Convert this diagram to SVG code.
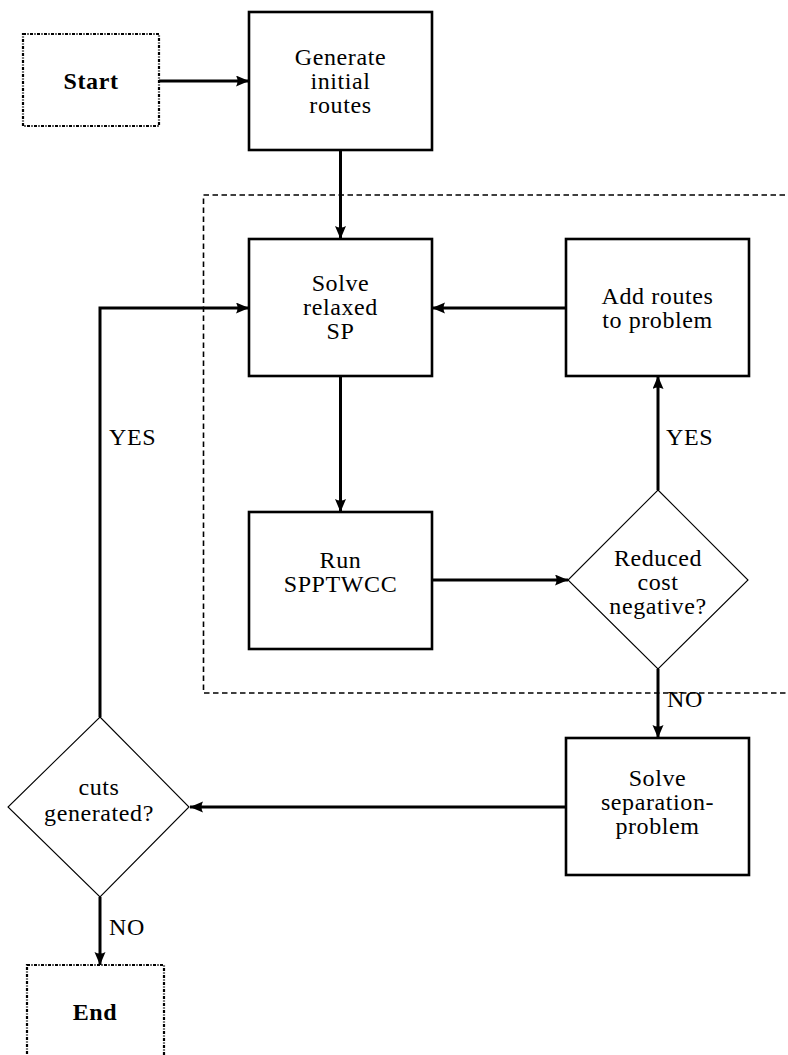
<svg xmlns="http://www.w3.org/2000/svg" width="788" height="1055" viewBox="0 0 788 1055">
  <style>
    .box { fill: #ffffff; stroke: #000000; stroke-width: 2.6; }
    .term { fill: #ffffff; stroke: #000000; stroke-width: 2.2; stroke-dasharray: 3 1.4 1.2 1.4; }
    .dec { fill: #ffffff; stroke: #000000; stroke-width: 1.1; }
    .frame { fill: none; stroke: #000000; stroke-width: 1.6; stroke-dasharray: 5.5 3.5; }
    .edge { fill: none; stroke: #000000; stroke-width: 3; marker-end: url(#head); }
    text { font-size: 24px; letter-spacing: 0.6px; fill: #000000; text-anchor: middle; }
    .bold { font-weight: bold; }
    .lbl { text-anchor: start; }
  </style>
  <defs>
    <marker id="head" markerUnits="userSpaceOnUse" markerWidth="14" markerHeight="12" refX="13" refY="5.5" orient="auto">
      <path d="M0,0 L13,5.5 L0,11 Q3,5.5 0,0 z" fill="#000000"/>
    </marker>
  </defs>

  <rect width="788" height="1055" fill="#ffffff"/>

  <!-- column-generation loop frame -->
  <rect class="frame" x="203.5" y="195" width="600" height="498"/>

  <g id="connectors" font-family="Liberation Serif, Times New Roman, serif">
    <path class="edge" d="M159,81 H249"/>
    <path class="edge" d="M340.5,150 V239"/>
    <path class="edge" d="M566,308 H432"/>
    <path class="edge" d="M340.5,376 V512"/>
    <path class="edge" d="M432,580 H568"/>
    <path class="edge" d="M658,490 V376"/>
    <path class="edge" d="M658,669 V738"/>
    <path class="edge" d="M566,807 H190"/>
    <path class="edge" d="M100,717 V308 H249"/>
    <path class="edge" d="M100,897 V965"/>
    <text class="lbl" x="109" y="445">YES</text>
    <text class="lbl" x="666" y="445">YES</text>
    <text class="lbl" x="667" y="707">NO</text>
    <text class="lbl" x="109" y="935">NO</text>
  </g>

  <g id="start" font-family="Liberation Serif, Times New Roman, serif">
    <rect class="term" x="23" y="34" width="136" height="92"/>
    <text class="bold" x="91" y="89">Start</text>
  </g>

  <g id="generate" font-family="Liberation Serif, Times New Roman, serif">
    <rect class="box" x="249" y="12" width="183" height="138"/>
    <text x="340.5" y="65">Generate</text>
    <text x="340.5" y="89">initial</text>
    <text x="340.5" y="113">routes</text>
  </g>

  <g id="solve-relaxed" font-family="Liberation Serif, Times New Roman, serif">
    <rect class="box" x="249" y="239" width="183" height="137"/>
    <text x="340.5" y="291">Solve</text>
    <text x="340.5" y="315">relaxed</text>
    <text x="340.5" y="339">SP</text>
  </g>

  <g id="add-routes" font-family="Liberation Serif, Times New Roman, serif">
    <rect class="box" x="566" y="239" width="183" height="137"/>
    <text x="657.5" y="304">Add routes</text>
    <text x="657.5" y="328">to problem</text>
  </g>

  <g id="run-spptwcc" font-family="Liberation Serif, Times New Roman, serif">
    <rect class="box" x="249" y="512" width="183" height="137"/>
    <text x="340.5" y="568">Run</text>
    <text x="340.5" y="592">SPPTWCC</text>
  </g>

  <g id="reduced-cost" font-family="Liberation Serif, Times New Roman, serif">
    <polygon class="dec" points="658,490 748,580 658,669 568,580"/>
    <text x="658" y="566">Reduced</text>
    <text x="658" y="590">cost</text>
    <text x="658" y="614">negative?</text>
  </g>

  <g id="separation" font-family="Liberation Serif, Times New Roman, serif">
    <rect class="box" x="566" y="738" width="183" height="137"/>
    <text x="657.5" y="786">Solve</text>
    <text x="657.5" y="810">separation-</text>
    <text x="657.5" y="834">problem</text>
  </g>

  <g id="cuts-generated" font-family="Liberation Serif, Times New Roman, serif">
    <polygon class="dec" points="100,717 189,807 100,897 8,807"/>
    <text x="99" y="795">cuts</text>
    <text x="99" y="821">generated?</text>
  </g>

  <g id="end" font-family="Liberation Serif, Times New Roman, serif">
    <rect class="term" x="27" y="965" width="137" height="100"/>
    <text class="bold" x="95" y="1020">End</text>
  </g>
</svg>
